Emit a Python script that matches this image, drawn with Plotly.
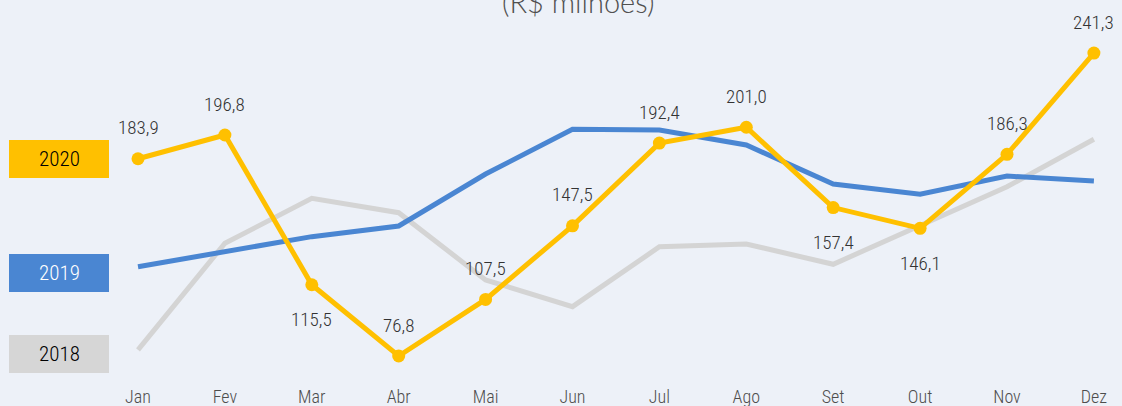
import plotly.graph_objects as go

months = ["Jan", "Fev", "Mar", "Abr", "Mai", "Jun", "Jul", "Ago", "Set", "Out", "Nov", "Dez"]
v2020 = [183.9, 196.8, 115.5, 76.8, 107.5, 147.5, 192.4, 201.0, 157.4, 146.1, 186.3, 241.3]
v2019 = [125.3, 133.3, 141.6, 147.4, 175.6, 199.9, 199.5, 191.4, 170.2, 164.6, 174.5, 171.8]
v2018 = [80.1, 138.0, 162.4, 154.6, 118.1, 103.6, 136.1, 137.6, 126.6, 147.9, 168.7, 194.5]
label_pos = ["top", "top", "bottom", "top", "top", "top", "top", "top", "bottom", "bottom", "top", "top"]
years = ["2020", "2019", "2018"]

YELLOW = "#FFC000"
BLUE = "#4A86D2"
GREY_LINE = "#D4D4D4"
GREY_BOX = "#D6D6D6"
BG = "#EDF1F8"
TXT = "#333333"
FONT = "Roboto Condensed, Arial Narrow, sans-serif"

xs = list(range(len(months)))

fig = go.Figure()
fig.add_trace(go.Scatter(x=xs, y=v2018, mode="lines", line=dict(color=GREY_LINE, width=5), showlegend=False, hoverinfo="skip"))
fig.add_trace(go.Scatter(x=xs, y=v2019, mode="lines", line=dict(color=BLUE, width=5), showlegend=False, hoverinfo="skip"))
fig.add_trace(go.Scatter(x=xs, y=v2020, mode="lines+markers", line=dict(color=YELLOW, width=5),
                         marker=dict(color=YELLOW, size=13), showlegend=False, hoverinfo="skip"))

for x, v, p in zip(xs, v2020, label_pos):
    fig.add_annotation(x=x, y=v, text=f"{v:.1f}".replace(".", ","), showarrow=False,
                       yshift=31 if p == "top" else -35,
                       font=dict(family=FONT, size=19, color=TXT, weight=300))

# year boxes
box_style = [(YELLOW, "#000000", 140, 178), (BLUE, "#FFFFFF", 254, 292), (GREY_BOX, "#000000", 335, 373)]
H = 384.0
for label, (fill, fc, y0, y1) in zip(years, box_style):
    fig.add_shape(type="rect", xref="paper", yref="paper", x0=9 / 1122, x1=109 / 1122,
                  y0=1 - y1 / H, y1=1 - y0 / H, fillcolor=fill, line=dict(width=0), layer="below")
    fig.add_annotation(xref="paper", yref="paper", x=59 / 1122, y=1 - (y0 + y1) / 2 / H,
                       text=label, showarrow=False, xanchor="center", yanchor="middle",
                       font=dict(family=FONT, size=21, color=fc, weight=300))

fig.add_annotation(xref="paper", yref="paper", x=578 / 1122, y=1, yshift=-1, text="(R$ milhões)",
                   showarrow=False, xanchor="center", yanchor="middle",
                   font=dict(family="Lato, sans-serif", size=29, color="#505050", weight=300))

px_per = 1.8417
top_v = 196.8 + 135 / px_per
bot_v = 196.8 - (H - 135) / px_per
x_left = -138 / 86.9
x_right = (1122 - 138) / 86.9

fig.update_layout(
    width=1122, height=406,
    margin=dict(l=0, r=0, t=0, b=22),
    paper_bgcolor=BG, plot_bgcolor=BG,
    xaxis=dict(range=[x_left, x_right], tickvals=xs, ticktext=months, showgrid=False, zeroline=False,
               showline=False, tickfont=dict(family=FONT, size=18, color="#4D4D4D", weight=300), ticks=""),
    yaxis=dict(range=[bot_v, top_v], showgrid=False, zeroline=False, showticklabels=False, showline=False),
)

fig.write_html("out.html", config={"displayModeBar": False})

with open("out.html", "r", encoding="utf-8") as f:
    html = f.read()
html = html.replace("<body>", '<body style="margin:0;padding:0;overflow:hidden">', 1)
with open("out.html", "w", encoding="utf-8") as f:
    f.write(html)
